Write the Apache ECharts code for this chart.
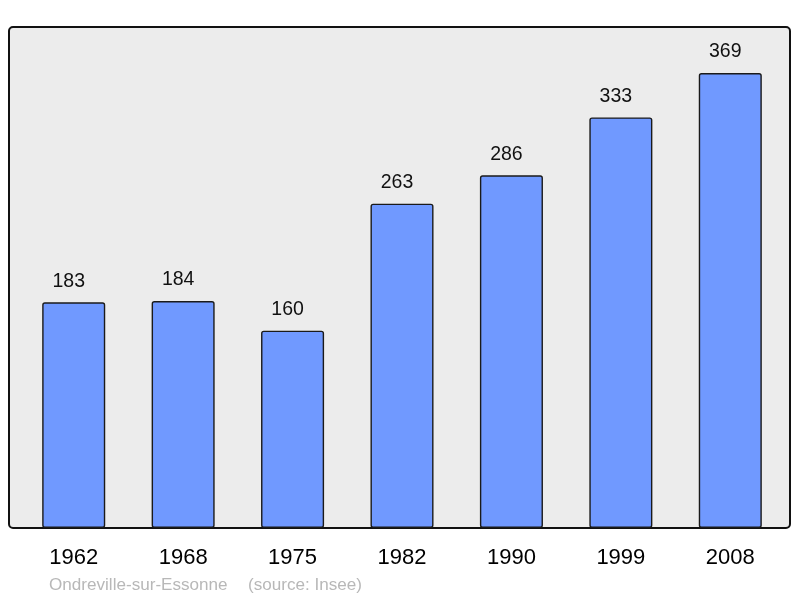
<!DOCTYPE html>
<html>
<head>
<meta charset="utf-8">
<script src="https://cdn.jsdelivr.net/npm/echarts@6/dist/echarts.min.js"></script>
<style>
  html, body { margin: 0; padding: 0; background: #fff; }
</style>
</head>
<body>
<div id="main" style="width:800px;height:598px"></div>
<script>
// données
const years = ['1962', '1968', '1975', '1982', '1990', '1999', '2008']
const population = [183, 184, 160, 263, 286, 333, 369]
const commune = 'Ondreville-sur-Essonne'
const source = '(source: Insee)'

let myChart = echarts.init(document.getElementById('main'))
let footStyle = {
  fill: '#b8b8b8',
  fontSize: 17.1,
  fontFamily: 'Liberation Sans, Arial, sans-serif'
}
let option = {
  animation: false,
  grid: {
    left: 19,
    right: 15,
    top: 27,
    bottom: 70
  },
  graphic: [
    {
      type: 'rect',
      z: -10,
      shape: { x: 9, y: 27, width: 781, height: 501, r: 4 },
      style: { fill: '#ececec', stroke: '#111', lineWidth: 2 }
    },
    {
      type: 'text',
      left: 49,
      top: 577,
      style: Object.assign({ text: commune }, footStyle)
    },
    {
      type: 'text',
      left: 248,
      top: 577,
      style: Object.assign({ text: source }, footStyle)
    }
  ],
  xAxis: {
    type: 'category',
    data: years,
    axisLine: { show: false },
    axisTick: { show: false },
    axisLabel: {
      color: '#000',
      fontSize: 22,
      margin: 19,
      fontFamily: 'Liberation Sans, Arial, sans-serif'
    }
  },
  yAxis: {
    type: 'value',
    min: 0,
    max: 406.3,
    show: false,
    splitLine: { show: false }
  },
  series: [
    {
      type: 'bar',
      data: population,
      barWidth: '57.6%',
      itemStyle: {
        color: '#7099ff',
        borderColor: '#1a1a1a',
        borderWidth: 1.4,
        borderRadius: 2
      },
      label: {
        show: true,
        position: 'top',
        distance: 11,
        offset: [-5, 0],
        color: '#111',
        fontSize: 19.5,
        fontFamily: 'Liberation Sans, Arial, sans-serif'
      }
    }
  ]
}
myChart.setOption(option)
</script>
</body>
</html>
